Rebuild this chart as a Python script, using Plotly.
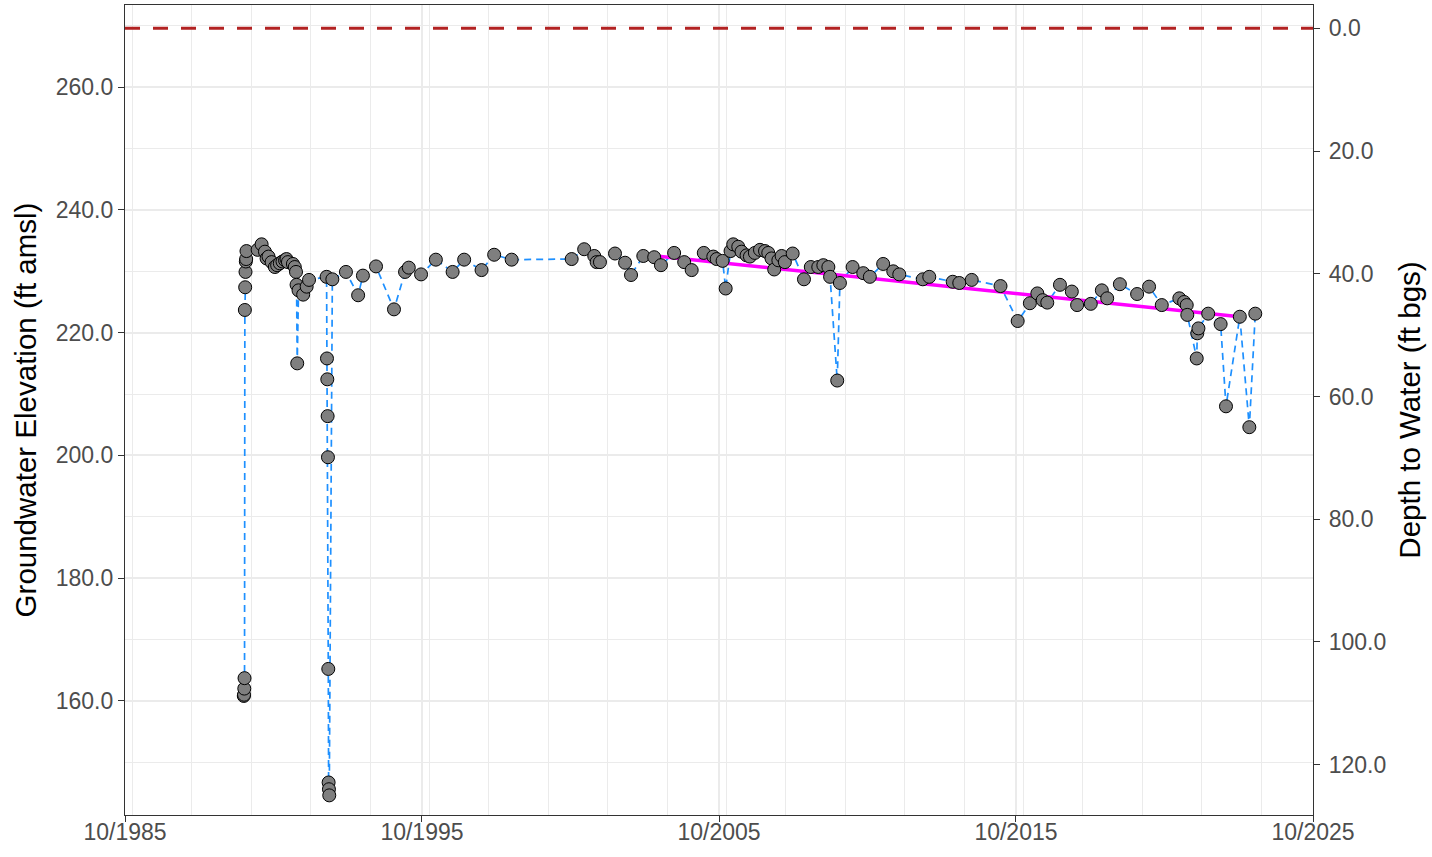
import plotly.graph_objects as go

# ---- data ----
dates = [
    "1989-10-01", "1989-10-04", "1989-10-07", "1989-10-10", "1989-10-14", "1989-10-18",
    "1989-10-22", "1989-10-26", "1989-10-30", "1989-11-03",
    "1990-03-20", "1990-05-08", "1990-06-18", "1990-07-08", "1990-08-01", "1990-09-08",
    "1990-10-18", "1990-11-15", "1990-12-18", "1991-01-20", "1991-02-20", "1991-03-10",
    "1991-03-28", "1991-05-28", "1991-06-20", "1991-07-05", "1991-07-12", "1991-07-20",
    "1991-08-05", "1991-10-01", "1991-11-13", "1991-12-12",
    "1992-07-15", "1992-07-20", "1992-07-24", "1992-07-28", "1992-08-01", "1992-08-05",
    "1992-08-09", "1992-08-13", "1992-08-17", "1992-09-24",
    "1993-03-10", "1993-08-07", "1993-10-05", "1994-03-15", "1994-10-22", "1995-03-07",
    "1995-04-22", "1995-09-20", "1996-03-20", "1996-10-12", "1997-03-03", "1997-10-03",
    "1998-03-07", "1998-10-08", "2000-10-15", "2001-03-18", "2001-07-20", "2001-08-18",
    "2001-09-28", "2002-04-01", "2002-08-03", "2002-10-15", "2003-03-15", "2003-07-27",
    "2003-10-18", "2004-03-28", "2004-07-30", "2004-10-30", "2005-03-28", "2005-07-23",
    "2005-09-02", "2005-11-14", "2005-12-22", "2006-02-20", "2006-03-25", "2006-05-26",
    "2006-07-05", "2006-09-05", "2006-10-16", "2006-12-16", "2007-02-17", "2007-04-20",
    "2007-05-30", "2007-07-09", "2007-08-11", "2007-10-01", "2007-11-10", "2007-12-20",
    "2008-03-25", "2008-08-11", "2008-11-03", "2009-02-03", "2009-04-06", "2009-06-07",
    "2009-06-28", "2009-09-24", "2009-10-27", "2010-04-01", "2010-08-10", "2010-10-30",
    "2011-04-12", "2011-08-14", "2011-10-27", "2012-08-11", "2012-10-30", "2013-08-14",
    "2013-11-03", "2014-04-05", "2015-03-25", "2015-10-22", "2016-03-20", "2016-06-20",
    "2016-08-25", "2016-10-20", "2017-03-25", "2017-08-18", "2017-10-22", "2018-04-08",
    "2018-08-22", "2018-10-27", "2019-04-01", "2019-10-30", "2020-03-25", "2020-08-28",
    "2021-04-01", "2021-05-30", "2021-07-01", "2021-07-08", "2021-11-01", "2021-11-08",
    "2021-11-22", "2022-03-22", "2022-08-22", "2022-10-27", "2023-04-15", "2023-08-10",
    "2023-10-22",
]
elevation = [
    160.8, 161.0, 162.0, 163.7, 223.7, 227.4,
    229.9, 231.6, 232.0, 233.3,
    233.5, 234.4, 233.2, 232.1, 232.4, 231.5,
    230.7, 231.0, 231.3, 231.6, 231.8, 232.0,
    231.5, 231.2, 230.7, 229.9, 227.8, 215.0,
    226.9, 226.2, 227.5, 228.6,
    229.1, 215.8, 212.4, 206.4, 199.7, 165.2,
    146.7, 145.6, 144.6, 228.7,
    229.9, 226.1, 229.3, 230.8, 223.8, 229.9,
    230.6, 229.5, 231.9, 229.9, 231.9, 230.2,
    232.7, 231.9, 232.0, 233.6, 232.5, 231.5,
    231.5, 232.9, 231.4, 229.4, 232.5, 232.3,
    231.0, 233.0, 231.5, 230.2, 233.0, 232.4,
    232.0, 231.7, 227.2, 233.3, 234.4, 234.0,
    233.2, 232.6, 232.4, 233.0, 233.5, 233.3,
    233.0, 232.1, 230.3, 231.8, 232.5, 231.5,
    232.9, 228.7, 230.7, 230.7, 231.0, 230.7,
    229.1, 212.2, 228.1, 230.7, 229.7, 229.1,
    231.2, 230.0, 229.5, 228.7, 229.1, 228.3,
    228.1, 228.6, 227.6, 221.9, 224.8, 226.4,
    225.3, 224.9, 227.8, 226.7, 224.5, 224.7,
    226.9, 225.6, 227.9, 226.3, 227.5, 224.5,
    225.6, 225.0, 224.5, 222.9, 215.8, 219.9,
    220.7, 223.1, 221.4, 208.0, 222.6, 204.6,
    223.1,
]
trend_dates = ["2003-03-25", "2023-04-15"]
trend_values = [232.7, 222.6]
ground_surface = 269.6

y_range = [141.4, 273.4]
x_range = ["1985-10-01", "2025-10-01"]
depth_ticks = [0, 20, 40, 60, 80, 100, 120]

depth = [ground_surface - e for e in elevation]

FONT = "Liberation Sans, Arial, sans-serif"
AX = "#333333"
TICKC = "#4D4D4D"
GRID = "#EBEBEB"
TICK_SIZE = 23
TITLE_SIZE = 29.5

fig = go.Figure()
fig.add_trace(go.Scatter(
    x=dates, y=elevation, mode="lines",
    line=dict(color="#1E90FF", width=1.7, dash="7px,5px"),
    hoverinfo="skip", showlegend=False))
fig.add_trace(go.Scatter(
    x=trend_dates, y=trend_values, mode="lines",
    line=dict(color="#FF00FF", width=3.5),
    showlegend=False))
fig.add_trace(go.Scatter(
    x=dates, y=elevation, mode="markers",
    marker=dict(size=13, color="#7F7F7F", line=dict(color="black", width=1)),
    showlegend=False))
fig.add_trace(go.Scatter(
    x=dates, y=depth, mode="markers", yaxis="y2",
    marker=dict(size=1, opacity=0), hoverinfo="skip", showlegend=False))

fig.add_hline(y=ground_surface, line=dict(color="#B22222", width=3, dash="15px,13px"))

fig.update_layout(
    width=1432, height=857,
    margin=dict(l=125, r=119, t=5, b=42),
    paper_bgcolor="white", plot_bgcolor="white",
    font=dict(family=FONT, color=TICKC),
    xaxis=dict(
        type="date", range=x_range, automargin=False,
        tick0="1985-10-01", dtick="M120", tickformat="%m/%Y",
        showgrid=True, gridcolor=GRID, gridwidth=1.8,
        minor=dict(dtick="M24", showgrid=True, gridcolor=GRID, gridwidth=0.9),
        showline=True, linecolor=AX, linewidth=1.3, mirror=True,
        ticks="outside", ticklen=6, tickcolor=AX, tickwidth=1.3,
        ticklabelstandoff=-10,
        tickfont=dict(size=TICK_SIZE, color=TICKC, family=FONT),
        zeroline=False,
    ),
    yaxis=dict(
        range=y_range, tick0=0, dtick=20, tickformat=".1f", automargin=False,
        showgrid=True, gridcolor=GRID, gridwidth=1.8,
        minor=dict(dtick=10, showgrid=True, gridcolor=GRID, gridwidth=0.9),
        showline=True, linecolor=AX, linewidth=1.3,
        ticks="outside", ticklen=6, tickcolor=AX, tickwidth=1.3,
        tickfont=dict(size=TICK_SIZE, color=TICKC, family=FONT),
        title=dict(text="Groundwater Elevation (ft amsl)", font=dict(size=TITLE_SIZE, color="black", family=FONT), standoff=10),
        zeroline=False,
    ),
    yaxis2=dict(
        overlaying="y", side="right", automargin=False,
        range=[ground_surface - y_range[0], ground_surface - y_range[1]],
        tickvals=depth_ticks, tickformat=".1f",
        showgrid=False, zeroline=False,
        showline=True, linecolor=AX, linewidth=1.3,
        ticks="outside", ticklen=6, tickcolor=AX, tickwidth=1.3,
        ticklabelstandoff=4,
        tickfont=dict(size=TICK_SIZE, color=TICKC, family=FONT),
        title=dict(text="Depth to Water (ft bgs)", font=dict(size=TITLE_SIZE, color="black", family=FONT), standoff=14),
    ),
)

fig.write_html("out.html", config={"displayModeBar": False},
               post_script="document.body.style.margin='0px';")
